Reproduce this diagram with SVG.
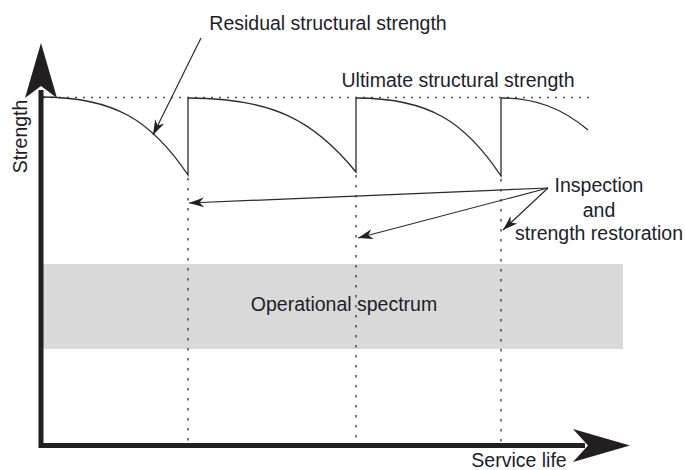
<svg xmlns="http://www.w3.org/2000/svg" width="685" height="470" viewBox="0 0 685 470">
  <style>
    .lbl { font-family: "Liberation Sans", Arial, sans-serif; font-size: 19.5px; fill: #1d1d2b; }
    .axis { fill: none; stroke: #231f20; stroke-width: 5; }
    .head { fill: #231f20; }
    .thin { fill: none; stroke: #2a2a2a; stroke-width: 1.3; }
    .hdot { fill: none; stroke: #555; stroke-width: 1.3; stroke-dasharray: 2 6; }
    .vdot { fill: none; stroke: #333; stroke-width: 1.3; stroke-dasharray: 2.5 7.5; }
    .ptr { fill: none; stroke: #2a2a2a; stroke-width: 1.2; marker-end: url(#barb); }
  </style>
  <defs>
    <marker id="barb" viewBox="-16 -6 18 12" refX="0" refY="0" markerWidth="18" markerHeight="12" markerUnits="userSpaceOnUse" orient="auto">
      <path d="M0,0 L-15,-5 L-10.5,0 L-15,5 Z" fill="#231f20"/>
    </marker>
  </defs>

  <rect width="685" height="470" fill="#ffffff"/>

  <!-- operational spectrum band -->
  <g id="spectrum">
    <rect x="43" y="264" width="580" height="85" fill="#d9d9d9"/>
    <text class="lbl" x="344" y="311" text-anchor="middle">Operational spectrum</text>
  </g>

  <!-- ultimate strength reference level -->
  <g id="ultimate">
    <path class="hdot" d="M43,97.5 H590"/>
    <text class="lbl" x="458" y="87" text-anchor="middle">Ultimate structural strength</text>
  </g>

  <!-- inspection instants -->
  <g id="inspection-lines">
    <path class="vdot" d="M188,178 V442"/>
    <path class="vdot" d="M356,175 V440"/>
    <path class="vdot" d="M501,179 V442"/>
  </g>

  <!-- strength degradation and restoration -->
  <g id="strength-curve">
    <path class="thin" d="M41,97 C114.5,97 151.25,120.4 188,175 V98"/>
    <path class="thin" d="M188,98 C272,98 314,120.2 356,172 V98"/>
    <path class="thin" d="M356,98 C428.5,98 464.75,121.4 501,176 V98"/>
    <path class="thin" d="M501,98 C535,98 562,108 588,130"/>
  </g>

  <!-- axes -->
  <g id="axes">
    <path class="axis" d="M41,90 V445.5 H585"/>
    <polygon class="head" points="41,43 57,98 41,86 25,98"/>
    <polygon class="head" points="630,445.5 573,429 588,445.5 573,462"/>
    <text class="lbl" transform="translate(27,136.5) rotate(-90)" text-anchor="middle">Strength</text>
    <text class="lbl" x="519" y="467" text-anchor="middle">Service life</text>
  </g>

  <!-- residual strength callout -->
  <g id="residual">
    <text class="lbl" x="328" y="30" text-anchor="middle">Residual structural strength</text>
  </g>

  <!-- inspection callout -->
  <g id="inspection">
    <text class="lbl" x="599" y="192" text-anchor="middle">Inspection</text>
    <text class="lbl" x="599" y="217" text-anchor="middle">and</text>
    <text class="lbl" x="599" y="240" text-anchor="middle">strength restoration</text>
  </g>

  <!-- pointer connectors -->
  <g id="connectors">
    <path class="ptr" d="M201,38 L153,135"/>
    <path class="ptr" d="M548,188 L189,203"/>
    <path class="ptr" d="M548,188 L358,238"/>
    <path class="ptr" d="M548,188 L503,230"/>
  </g>
</svg>
